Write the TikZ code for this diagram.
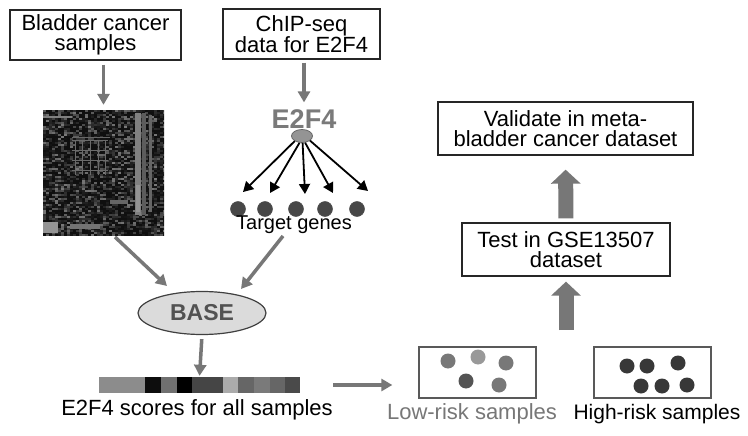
\documentclass[tikz,border=0pt]{standalone}
\usepackage{fontspec}
\setmainfont{Liberation Sans}
\usetikzlibrary{arrows.meta,shapes.geometric}
\definecolor{arrgray}{HTML}{777777}
\definecolor{e2gray}{HTML}{7A7A7A}
\newcommand\fbig{\fontsize{22}{20}\selectfont}
\tikzset{
  garrow/.style={draw=arrgray, line width=3.5pt, -{Triangle[length=11pt,width=12pt]}},
  barrow/.style={draw=black, line width=1.8pt, -{Triangle[length=10pt,width=11pt]}},
  bigarrow/.style={draw=arrgray, line width=15pt, -{Triangle[length=14pt,width=29pt]}},
  box/.style={draw=black!85, line width=1.3pt, inner sep=0pt, align=center, font=\fbig},
  sbox/.style={draw=black!65, line width=1.3pt, inner sep=0pt},
  dotnode/.style={circle, inner sep=0pt, minimum size=15pt, draw=black!70, line width=0.5pt},
  lbl/.style={inner sep=0pt, font=\fbig},
}
\begin{document}
\begin{tikzpicture}[x=1pt,y=-1pt]
\useasboundingbox (0,0) rectangle (748,436);
\fill[white] (0,0) rectangle (748,436);

% top boxes
\node[box, minimum width=171pt, minimum height=50pt] (b1) at (95.5,35) {Bladder cancer\\samples};
\node[box, minimum width=157pt, minimum height=50pt] (b2) at (301.5,34) {ChIP-seq\\data for E2F4};

% heatmap
\node[inner sep=0pt, minimum width=121pt, minimum height=125pt] (heat) at (103.5,172.5) {};
\begin{scope}
\clip (43,110) rectangle (164,235);
\fill[black!88] (43,110) rectangle (164,235);
\pgfmathsetseed{4217}
\foreach \i in {0,...,40}{
  \foreach \j in {0,...,62}{
    \pgfmathsetmacro\g{int(6+42*rnd^3)}
    \fill[white!\g!black] ({43+3*\i},{110+2*\j}) rectangle ++(3,2);
  }
}
\fill[white!50!black] (135,113) rectangle (141,215);
\fill[white!36!black] (142,113) rectangle (146,215);
\fill[white!40!black] (149,115) rectangle (152,212);
\fill[white!58!black] (136,185) rectangle (140,212);
\draw[white!50!black, line width=1.2pt] (43,117) -- (72,117);
\foreach \xx in {75,82,90,98,105}{\draw[white!42!black, line width=0.8pt] (\xx,140) -- (\xx,175);}
\foreach \yy in {140,150,160,170}{\draw[white!42!black, line width=0.8pt] (72,\yy) -- (108,\yy);}
\draw[white!40!black, line width=1pt] (72,138) -- (110,138);
\fill[white!58!black] (43,222) rectangle (58,233);
\fill[white!45!black] (70,224) rectangle (100,229);
\fill[white!40!black] (110,200) rectangle (128,204);
\end{scope}

% E2F4 and targets
\node[inner sep=0pt, font=\fontsize{27}{27}\selectfont\bfseries, text=e2gray] (e2f4) at (304,119) {E2F4};
\node[ellipse, draw=black!60, fill=black!42, line width=0.8pt, minimum width=21pt, minimum height=13pt, inner sep=0pt] (ell) at (302,136) {};
\node[dotnode, fill=black!72] (d1) at (238,209) {};
\node[dotnode, fill=black!72] (d2) at (265,209) {};
\node[dotnode, fill=black!72] (d3) at (296,209) {};
\node[dotnode, fill=black!72] (d4) at (325,209) {};
\node[dotnode, fill=black!72] (d5) at (357,209) {};
\node[inner sep=0pt, font=\fontsize{20}{20}\selectfont] (tg) at (294,225) {Target genes};
\coordinate (t1) at (243,192);
\coordinate (t2) at (270,193);
\coordinate (t3) at (305,194);
\coordinate (t4) at (333,193);
\coordinate (t5) at (368,191);
\draw[barrow] (ell.215) -- (t1);
\draw[barrow] (ell.250) -- (t2);
\draw[barrow] (ell.275) -- (t3);
\draw[barrow] (ell.295) -- (t4);
\draw[barrow] (ell.330) -- (t5);

% arrows top
\draw[garrow, shorten <=4pt, shorten >=5pt] (b1.south -| heat.north) -- (heat.north);
\draw[garrow, shorten <=3pt, shorten >=7pt] (b2.south -| e2f4.north) -- (e2f4.north);

% BASE
\node[ellipse, draw=black!75, fill=black!14, line width=1.2pt, minimum width=128pt, minimum height=43pt, inner sep=0pt, font=\fontsize{23}{23}\selectfont\bfseries, text=black!68] (base) at (202,313) {BASE};
\coordinate (hs) at (115,237);
\coordinate (he) at (167,286);
\coordinate (gs) at (283,236);
\coordinate (ge) at (241,289);
\draw[garrow] (hs) -- (he);
\draw[garrow] (gs) -- (ge);

% score bar
\node[inner sep=0pt, minimum width=201pt, minimum height=16pt] (bar) at (199.5,385) {};
\fill[white!55!black] (99,377) rectangle (145,393);
\fill[black!95] (145,377) rectangle (161,393);
\fill[white!44!black] (161,377) rectangle (177,393);
\fill[black] (177,377) rectangle (192,393);
\fill[white!27!black] (192,377) rectangle (223,393);
\fill[white!67!black] (223,377) rectangle (238,393);
\fill[white!40!black] (238,377) rectangle (254,393);
\fill[white!48!black] (254,377) rectangle (270,393);
\fill[white!40!black] (270,377) rectangle (285,393);
\fill[white!29!black] (285,377) rectangle (300,393);
\draw[garrow, shorten <=4pt, shorten >=1pt] (base.south) -- (bar.north);
\node[lbl] (scores) at (197,410) {E2F4 scores for all samples};

% risk groups
\node[sbox, minimum width=117pt, minimum height=51pt] (low) at (477.5,372.5) {};
\node[sbox, minimum width=117pt, minimum height=51pt] (high) at (652.5,372.5) {};
\node[dotnode, draw=none, fill=white!47!black] (l1) at (448,361) {};
\node[dotnode, draw=none, fill=white!60!black] (l2) at (478,357) {};
\node[dotnode, draw=none, fill=white!47!black] (l3) at (506,363) {};
\node[dotnode, draw=none, fill=white!33!black] (l4) at (466,381) {};
\node[dotnode, draw=none, fill=white!47!black] (l5) at (499,385) {};
\node[dotnode, draw=none, fill=white!22!black] (h1) at (627,366) {};
\node[dotnode, draw=none, fill=white!22!black] (h2) at (647,366) {};
\node[dotnode, draw=none, fill=white!22!black] (h3) at (678,363) {};
\node[dotnode, draw=none, fill=white!22!black] (h4) at (641,386) {};
\node[dotnode, draw=none, fill=white!22!black] (h5) at (662,386) {};
\node[dotnode, draw=none, fill=white!22!black] (h6) at (687,385) {};
\node[lbl, text=arrgray] (lowlbl) at (472,414) {Low-risk samples};
\node[lbl, font=\fontsize{21}{21}\selectfont] (highlbl) at (657,414) {High-risk samples};
\draw[garrow, shorten <=33pt, shorten >=26pt] (bar.east) -- (bar.east -| low.west);

% validation
\node[box, minimum width=208pt, minimum height=53pt] (test) at (566,249.5) {Test in GSE13507\\dataset};
\node[box, minimum width=255pt, minimum height=53pt] (val) at (565.5,128.5) {Validate in meta-\\bladder cancer dataset};
\coordinate (split) at (566,330);
\draw[bigarrow, shorten >=5pt] (split) -- (split |- test.south);
\draw[bigarrow, shorten <=4pt, shorten >=14pt] (test.north) -- (val.south);
\end{tikzpicture}
\end{document}
